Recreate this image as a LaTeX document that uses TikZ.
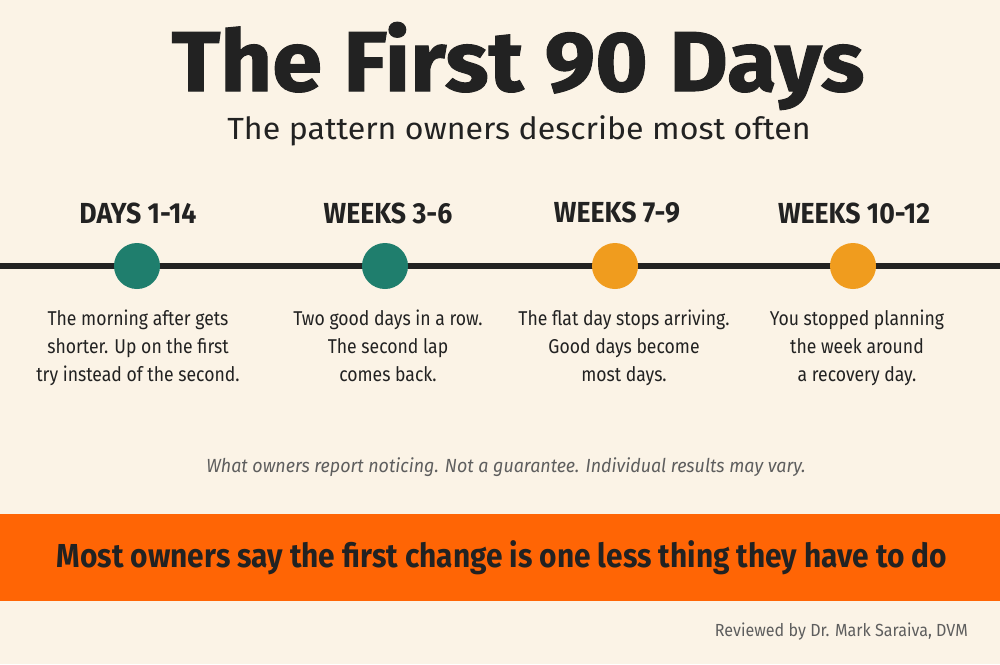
\documentclass[tikz,border=0pt]{standalone}
\usepackage{fontspec}
\setmainfont{Fira Sans}
\newfontfamily\titlefont{Fira Sans}[UprightFont=* Bold,FakeStretch=1.06,FakeBold=1.2]
\newfontfamily\subfont{Fira Sans}[FakeStretch=1.05]
\newfontfamily\condfont{Fira Sans}[FakeStretch=0.88]
\newfontfamily\phasefont{Fira Sans}[UprightFont=* Bold,FakeStretch=0.92]
\newfontfamily\bandfont{Fira Sans}[UprightFont=* Bold,FakeStretch=0.9]
\newfontfamily\conditalic{Fira Sans}[UprightFont=* Italic,FakeStretch=0.94]
\newfontfamily\revfont{Fira Sans}[FakeStretch=0.92]
\definecolor{bg}{HTML}{FBF3E6}
\definecolor{ink}{HTML}{222222}
\definecolor{teal}{HTML}{1F7E6D}
\definecolor{amber}{HTML}{F09C1E}
\definecolor{band}{HTML}{FF6505}
\definecolor{note}{HTML}{5E5E5E}
\tikzset{
  phase/.style={font=\phasefont\fontsize{29}{32}\selectfont, text=ink, anchor=center, inner sep=0pt},
  desc/.style={font=\condfont\fontsize{20}{28}\selectfont, text=ink, align=center, anchor=north, inner sep=0pt},
  dot/.style={circle, minimum size=46pt, inner sep=0pt},
}
\begin{document}
\begin{tikzpicture}[x=1pt,y=-1pt]
\fill[bg] (0,0) rectangle (1000,664);
\useasboundingbox (0,0) rectangle (1000,664);
\node[font=\titlefont\fontsize{85}{90}\selectfont, text=ink, inner sep=0pt] (title) at (518,66) {The First 90 Days};
\node[font=\subfont\fontsize{30.6}{34}\selectfont, text=ink, inner sep=0pt] (sub) at (519,131) {The pattern owners describe most often};
% timeline
\coordinate (L) at (0,266);
\coordinate (R) at (1000,266);
\draw[ink, line width=6pt] (L) -- (R);
\node[dot, fill=teal] (c1) at (137,266) {};
\node[dot, fill=teal] (c2) at (385,266) {};
\node[dot, fill=amber] (c3) at (615,266) {};
\node[dot, fill=amber] (c4) at (853,266) {};
\node[phase] (p1) at (138,213) {DAYS 1-14};
\node[phase] (p2) at (388,213) {WEEKS 3-6};
\node[phase] (p3) at (617,213) {WEEKS 7-9};
\node[phase] (p4) at (854,213) {WEEKS 10-12};
\node[desc] (d1) at (138,310) {The morning after gets\\shorter. Up on the first\\try instead of the second.};
\node[desc] (d2) at (388,310) {Two good days in a row.\\The second lap\\comes back.};
\node[desc] (d3) at (624,310) {The flat day stops arriving.\\Good days become\\most days.};
\node[desc] (d4) at (857,310) {You stopped planning\\the week around\\a recovery day.};
\node[font=\conditalic\fontsize{19}{22}\selectfont, text=note, inner sep=0pt] (n) at (506,467) {What owners report noticing. Not a guarantee. Individual results may vary.};
\fill[band] (0,514) rectangle (1000,601);
\node[font=\bandfont\fontsize{33.2}{36}\selectfont, text=ink, inner sep=0pt] (m) at (502,558) {Most owners say the first change is one less thing they have to do};
\node[font=\revfont\fontsize{17.5}{20}\selectfont, text=note, anchor=east, inner sep=0pt] (r) at (968,632) {Reviewed by Dr. Mark Saraiva, DVM};
\end{tikzpicture}
\end{document}
